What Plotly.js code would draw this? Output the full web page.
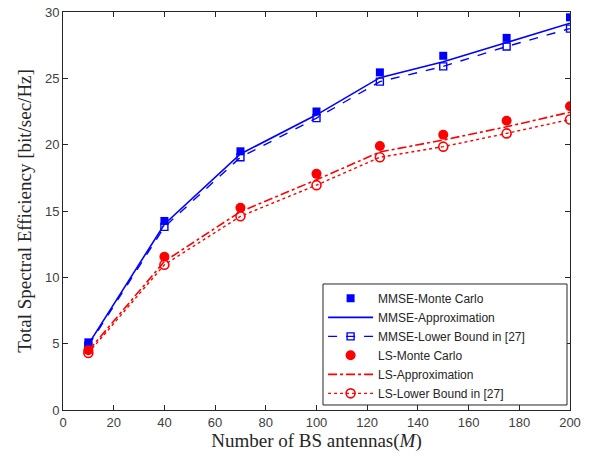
<!DOCTYPE html>
<html><head><meta charset="utf-8">
<script src="https://cdn.plot.ly/plotly-3.0.1.min.js"></script>
<style>body{margin:0;background:#fff}#plot{width:593px;height:461px}</style>
</head><body><div id="plot"></div>
<script>
const M = [10, 40, 70, 100, 125, 150, 175, 200];
const mmseMC = [5.1, 14.25, 19.5, 22.5, 25.45, 26.7, 28.05, 29.6];
const mmseApprox = [4.95, 14.0, 19.3, 22.25, 25.05, 26.25, 27.7, 29.15];
const mmseLB = [4.85, 13.8, 19.05, 22.0, 24.75, 25.9, 27.4, 28.75];
const lsMC = [4.5, 11.55, 15.25, 17.8, 19.9, 20.75, 21.8, 22.9];
const lsApprox = [4.45, 11.2, 14.95, 17.35, 19.45, 20.35, 21.35, 22.45];
const lsLB = [4.3, 10.95, 14.6, 16.95, 19.05, 19.85, 20.85, 21.9];
const legendNames = ['MMSE-Monte Carlo','MMSE-Approximation','MMSE-Lower Bound in [27]','LS-Monte Carlo','LS-Approximation','LS-Lower Bound in [27]'];
const xTicks = [0,20,40,60,80,100,120,140,160,180,200];
const yTicks = [0,5,10,15,20,25,30];

const blue = '#0000FF', red = '#FF0000';
const traces = [
  {x: M, y: mmseMC, name: legendNames[0], mode: 'markers', marker: {symbol: 'square', size: 8, color: blue}},
  {x: M, y: mmseApprox, name: legendNames[1], mode: 'lines', line: {color: blue, width: 1.6}},
  {x: M, y: mmseLB, name: legendNames[2], mode: 'lines+markers', line: {color: blue, width: 1.4, dash: 'dash'}, marker: {symbol: 'square-open', size: 7, color: blue, line: {width: 1.4}}},
  {x: M, y: lsMC, name: legendNames[3], mode: 'markers', marker: {symbol: 'circle', size: 10, color: red}},
  {x: M, y: lsApprox, name: legendNames[4], mode: 'lines', line: {color: red, width: 1.6, dash: 'dashdot'}},
  {x: M, y: lsLB, name: legendNames[5], mode: 'lines+markers', line: {color: red, width: 1.4, dash: 'dot'}, marker: {symbol: 'circle-open', size: 9, color: red, line: {width: 1.6}}}
];
const axisCommon = {showline: true, mirror: 'ticks', linecolor: '#262626', linewidth: 1, ticks: 'inside', ticklen: 5, tickcolor: '#262626', showgrid: false, zeroline: false, tickfont: {family: 'Liberation Sans, Arial, sans-serif', size: 13, color: '#404040'}};
const layout = {
  width: 593, height: 461,
  margin: {l: 63, r: 23, t: 12, b: 51},
  paper_bgcolor: '#fff', plot_bgcolor: '#fff',
  showlegend: true,
  xaxis: Object.assign({}, axisCommon, {range: [0, 200], tickvals: xTicks,
    title: {text: 'Number of BS antennas(<i>M</i>)', font: {family: 'Liberation Serif, Times New Roman, serif', size: 19, color: '#262626'}, standoff: 2}}),
  yaxis: Object.assign({}, axisCommon, {range: [0, 30], tickvals: yTicks,
    title: {text: 'Total Spectral Efficiency [bit/sec/Hz]', font: {family: 'Liberation Serif, Times New Roman, serif', size: 19, color: '#262626'}, standoff: 8}}),
  shapes: [{type: 'rect', xref: 'paper', yref: 'paper', x0: 0.5128, x1: 0.9941, y0: 0.0126, y1: 0.3166,
    line: {color: '#262626', width: 1}, fillcolor: '#fff', layer: 'above'}],
  legend: {x: 0.513, y: 0.317, xanchor: 'left', yanchor: 'top', bgcolor: 'rgba(0,0,0,0)', borderwidth: 0,
    font: {family: 'Liberation Sans, Arial, sans-serif', size: 12, color: '#262626'}, itemwidth: 45, tracegroupgap: 0}
};
Plotly.newPlot('plot', traces, layout, {displayModeBar: false, staticPlot: true});
</script></body></html>
